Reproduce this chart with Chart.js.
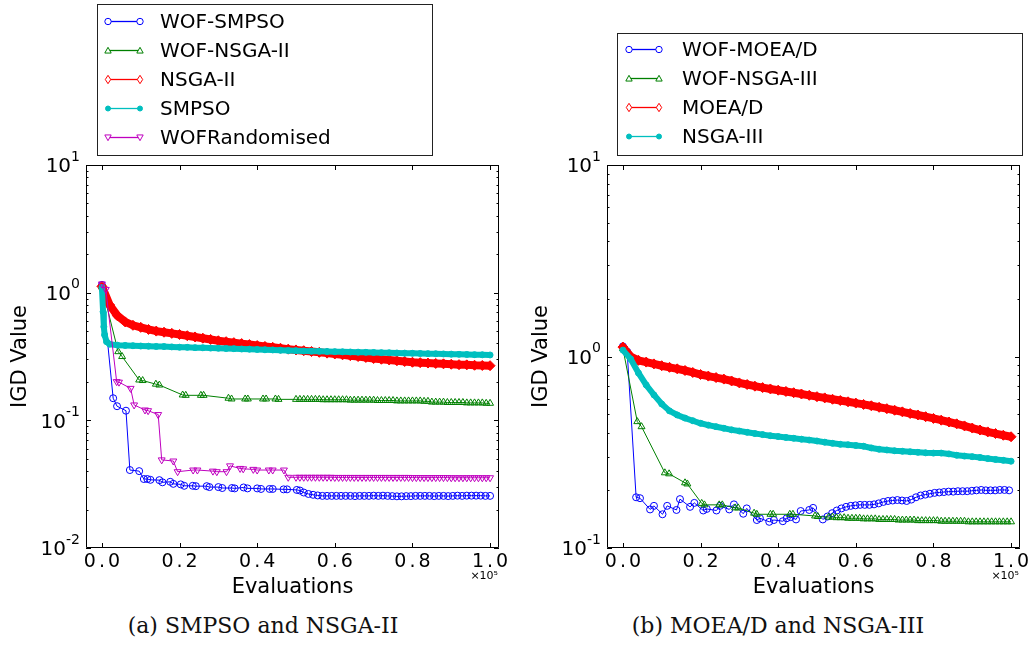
<!DOCTYPE html>
<html>
<head>
<meta charset="utf-8">
<script src="https://cdn.jsdelivr.net/npm/chart.js"></script>
<style>
  body { margin: 0; background: #fff; width: 1034px; height: 646px; position: relative; overflow: hidden; }
  .panel { position: absolute; top: 0; }
  .panel canvas { display: block; }
  .caption { position: absolute; top: 613px; font-family: "DejaVu Serif", serif; font-size: 22px; text-align: center; color: #111; }
</style>
</head>
<body>
<div class="panel" style="left:0"><canvas id="chartA" width="517" height="610"></canvas></div>
<div class="panel" style="left:520px"><canvas id="chartB" width="514" height="610"></canvas></div>
<div class="caption" style="left:0;width:526px">(a) SMPSO and NSGA-II</div>
<div class="caption" style="left:520px;width:516px">(b) MOEA/D and NSGA-III</div>
<script>
// x values are evaluations in units of 1e5 (the axis shows x10^5)
const xTickValues = [0.0, 0.2, 0.4, 0.6, 0.8, 1.0];

const grid02 = [0.00, 0.02, 0.04, 0.06, 0.08, 0.10, 0.12, 0.14, 0.16, 0.18, 0.20, 0.22, 0.24, 0.26, 0.28,
  0.30, 0.32, 0.34, 0.36, 0.38, 0.40, 0.42, 0.44, 0.46, 0.48, 0.50, 0.52, 0.54, 0.56, 0.58, 0.60, 0.62,
  0.64, 0.66, 0.68, 0.70, 0.72, 0.74, 0.76, 0.78, 0.80, 0.82, 0.84, 0.86, 0.88, 0.90, 0.92, 0.94, 0.96,
  0.98, 1.00];
const tail01 = [0.50, 0.51, 0.52, 0.53, 0.54, 0.55, 0.56, 0.57, 0.58, 0.59, 0.60, 0.61, 0.62, 0.63, 0.64,
  0.65, 0.66, 0.67, 0.68, 0.69, 0.70, 0.71, 0.72, 0.73, 0.74, 0.75, 0.76, 0.77, 0.78, 0.79, 0.80, 0.81,
  0.82, 0.83, 0.84, 0.85, 0.86, 0.87, 0.88, 0.89, 0.90, 0.91, 0.92, 0.93, 0.94, 0.95, 0.96, 0.97, 0.98,
  0.99, 1.00];

// (a) SMPSO and NSGA-II
const wofSmpsoEvals = [0.0, 0.029, 0.039, 0.062, 0.072, 0.096, 0.108, 0.117, 0.125, 0.148, 0.156, 0.176,
  0.184, 0.203, 0.212, 0.234, 0.242, 0.27, 0.277, 0.30, 0.31, 0.335, 0.342, 0.365, 0.375, 0.40, 0.41,
  0.432, 0.44, 0.468, 0.477, 0.502, 0.51,
  0.520, 0.532, 0.544, 0.556, 0.568, 0.580, 0.592, 0.604, 0.616, 0.628, 0.640, 0.652, 0.664, 0.676,
  0.688, 0.700, 0.712, 0.724, 0.736, 0.748, 0.760, 0.772, 0.784, 0.796, 0.808, 0.820, 0.832, 0.844,
  0.856, 0.868, 0.880, 0.892, 0.904, 0.916, 0.928, 0.940, 0.952, 0.964, 0.976, 0.988, 1.000];
const wofSmpsoIgd = [1.15, 0.149, 0.129, 0.119, 0.0408, 0.040, 0.0347, 0.0347, 0.0342, 0.034, 0.0327,
  0.033, 0.0318, 0.0315, 0.0307, 0.0307, 0.0305, 0.0305, 0.030, 0.030, 0.0295, 0.0295, 0.0293, 0.0298,
  0.0293, 0.0293, 0.029, 0.029, 0.029, 0.0288, 0.0288, 0.0285, 0.0282,
  0.0272, 0.0265, 0.0261, 0.0258, 0.0256, 0.0256, 0.0256, 0.0256, 0.0256, 0.0256, 0.0256, 0.0255,
  0.0256, 0.0256, 0.0256, 0.0257, 0.0256, 0.0257, 0.0256, 0.0255, 0.0254, 0.0254, 0.0255, 0.0255,
  0.0256, 0.0256, 0.0256, 0.0256, 0.0255, 0.0256, 0.0256, 0.0255, 0.0256, 0.0257, 0.0256, 0.0257,
  0.0257, 0.0257, 0.0257, 0.0256, 0.0256];

const wofNsga2Evals = [0.0, 0.042, 0.052, 0.096, 0.105, 0.139, 0.148, 0.208, 0.216, 0.255, 0.262, 0.326,
  0.334, 0.369, 0.376, 0.415, 0.423, 0.447, 0.455, ...tail01];
const wofNsga2Igd = [1.11, 0.345, 0.316, 0.207, 0.205, 0.192, 0.189, 0.158, 0.157, 0.157, 0.157, 0.149,
  0.147, 0.147, 0.147, 0.147, 0.147, 0.147, 0.146,
  0.146, 0.146, 0.146, 0.146, 0.146, 0.146, 0.146, 0.145, 0.145, 0.145, 0.145,
  0.145, 0.145, 0.145, 0.144, 0.144, 0.144, 0.144, 0.144, 0.144, 0.144,
  0.143, 0.143, 0.143, 0.143, 0.143, 0.142, 0.142, 0.142, 0.142, 0.142,
  0.142, 0.142, 0.141, 0.141, 0.139, 0.139, 0.139, 0.139, 0.138, 0.138,
  0.138, 0.138, 0.138, 0.137, 0.137, 0.137, 0.137, 0.137, 0.136, 0.136];

const nsga2Igd = [1.12, 0.80, 0.66, 0.59, 0.555, 0.535, 0.515, 0.50, 0.49, 0.48, 0.47, 0.46, 0.45, 0.44,
  0.43, 0.42, 0.413, 0.406, 0.399, 0.392, 0.385, 0.379, 0.373, 0.367, 0.361, 0.356, 0.351, 0.346, 0.341,
  0.336, 0.331, 0.326, 0.321, 0.316, 0.311, 0.305, 0.301, 0.297, 0.293, 0.289, 0.285, 0.283, 0.281,
  0.279, 0.277, 0.275, 0.273, 0.272, 0.270, 0.269, 0.268];

const smpsoEvals = [0.0, 0.003, 0.005, 0.007, 0.012, 0.02, ...grid02.slice(2)];
const smpsoIgd = [1.1, 0.71, 0.54, 0.466, 0.413, 0.395,
  0.388, 0.386, 0.384, 0.382, 0.381, 0.379, 0.378, 0.376, 0.374, 0.373, 0.371, 0.370, 0.368, 0.367,
  0.365, 0.364, 0.362, 0.361, 0.359, 0.357, 0.356, 0.354, 0.352, 0.351, 0.349, 0.348, 0.347, 0.346,
  0.345, 0.344, 0.343, 0.342, 0.341, 0.340, 0.339, 0.338, 0.337, 0.336, 0.335, 0.334, 0.333, 0.332,
  0.331, 0.330, 0.329, 0.328, 0.327, 0.326, 0.325];

const wofRandEvals = [0.0, 0.01, 0.038, 0.044, 0.074, 0.083, 0.111, 0.119, 0.145, 0.154, 0.184, 0.195,
  0.235, 0.246, 0.286, 0.296, 0.321, 0.33, 0.356, 0.364, 0.39, 0.40, 0.43, 0.44, 0.469, 0.48, ...tail01];
const wofRandIgd = [1.17, 1.06, 0.201, 0.199, 0.178, 0.132, 0.1205, 0.119, 0.111, 0.049, 0.048, 0.0396,
  0.0408, 0.0408, 0.040, 0.0396, 0.0396, 0.044, 0.042, 0.0417, 0.0413, 0.0408, 0.0408, 0.0408, 0.0408,
  0.0358,
  0.0358, 0.0358, 0.0358, 0.0358, 0.0358, 0.0358, 0.0358, 0.0358, 0.0358, 0.0358,
  0.0357, 0.0357, 0.0357, 0.0357, 0.0357, 0.0357, 0.0357, 0.0357, 0.0357, 0.0357,
  0.0357, 0.0357, 0.0357, 0.0357, 0.0357, 0.0357, 0.0357, 0.0357, 0.0357, 0.0357,
  0.0356, 0.0356, 0.0356, 0.0356, 0.0356, 0.0356, 0.0356, 0.0356, 0.0356, 0.0356,
  0.0355, 0.0355, 0.0355, 0.0355, 0.0355, 0.0355, 0.0355, 0.0355, 0.0355, 0.0355, 0.0355];

// (b) MOEA/D and NSGA-III
const wofMoeadEvals = [0.0, 0.011, 0.034, 0.044, 0.07, 0.08, 0.102, 0.114, 0.138, 0.147, 0.173, 0.184,
  0.207, 0.216, 0.241, 0.25, 0.274, 0.286, 0.31, 0.319, 0.345, 0.353, 0.377, 0.389, 0.412, 0.422, 0.432,
  0.446, 0.458, 0.48, 0.49, 0.515,
  0.527, 0.539, 0.551, 0.563, 0.575, 0.587, 0.599, 0.611, 0.623, 0.635, 0.647, 0.659, 0.671, 0.683,
  0.695, 0.707, 0.719, 0.731, 0.743, 0.755, 0.767, 0.779, 0.791, 0.803, 0.815, 0.827, 0.839, 0.851,
  0.863, 0.875, 0.887, 0.899, 0.911, 0.923, 0.935, 0.947, 0.959, 0.971, 0.983, 0.995];
const wofMoeadIgd = [1.13, 1.06, 0.184, 0.182, 0.159, 0.166, 0.150, 0.166, 0.158, 0.180, 0.164, 0.172,
  0.157, 0.160, 0.157, 0.166, 0.159, 0.169, 0.151, 0.161, 0.140, 0.143, 0.137, 0.140, 0.138, 0.143, 0.145,
  0.141, 0.156, 0.158, 0.162, 0.141,
  0.146, 0.152, 0.157, 0.161, 0.164, 0.166, 0.167, 0.168, 0.168, 0.168, 0.169, 0.171, 0.174, 0.176,
  0.177, 0.178, 0.177, 0.176, 0.179, 0.184, 0.188, 0.190, 0.192, 0.194, 0.195, 0.196, 0.197, 0.197,
  0.198, 0.198, 0.198, 0.199, 0.200, 0.201, 0.200, 0.200, 0.200, 0.201, 0.201, 0.200];

const wofNsga3Evals = [0.0, 0.037, 0.048, 0.108, 0.119, 0.16, 0.166, 0.203, 0.21, 0.248, 0.256, 0.289,
  0.297, 0.338, 0.345, 0.38, 0.387, 0.43, 0.438, 0.495, 0.502, ...tail01.slice(3)];
const wofNsga3Igd = [1.1, 0.457, 0.43, 0.247, 0.244, 0.219, 0.216, 0.171, 0.168, 0.168, 0.168, 0.162,
  0.162, 0.152, 0.150, 0.150, 0.150, 0.150, 0.150, 0.147, 0.146,
  0.145, 0.145, 0.144, 0.144, 0.144, 0.143, 0.143, 0.143,
  0.143, 0.142, 0.142, 0.142, 0.142, 0.141, 0.141, 0.141, 0.141, 0.141,
  0.140, 0.140, 0.140, 0.140, 0.140, 0.139, 0.139, 0.139, 0.139, 0.139,
  0.139, 0.138, 0.138, 0.138, 0.138, 0.138, 0.138, 0.138, 0.137, 0.137,
  0.137, 0.137, 0.137, 0.137, 0.137, 0.137, 0.137, 0.137, 0.137, 0.137];

const moeadIgd = [1.12, 1.0, 0.955, 0.935, 0.915, 0.895, 0.878, 0.862, 0.845, 0.825, 0.805, 0.79, 0.776,
  0.762, 0.745, 0.728, 0.714, 0.70, 0.688, 0.677, 0.667, 0.657, 0.647, 0.637, 0.627, 0.617, 0.608, 0.598,
  0.589, 0.58, 0.571, 0.562, 0.553, 0.543, 0.534, 0.524, 0.514, 0.504, 0.495, 0.485, 0.475, 0.465, 0.455,
  0.445, 0.434, 0.423, 0.413, 0.404, 0.396, 0.388, 0.381];

const nsga3Igd = [1.08, 0.97, 0.82, 0.71, 0.63, 0.565, 0.52, 0.495, 0.477, 0.462, 0.448, 0.438, 0.43,
  0.422, 0.414, 0.408, 0.402, 0.396, 0.391, 0.386, 0.382, 0.378, 0.374, 0.370, 0.366, 0.362, 0.357, 0.352,
  0.348, 0.346, 0.343, 0.34, 0.333, 0.328, 0.325, 0.322, 0.32, 0.318, 0.316, 0.314, 0.313, 0.313, 0.31,
  0.305, 0.302, 0.300, 0.297, 0.293, 0.290, 0.287, 0.284];

// line styles (matplotlib classic colours)
const styleBlue = { borderColor: '#0000ff', borderWidth: 1, pointStyle: 'circle', pointRadius: 3.5,
  pointBorderWidth: 1, pointBorderColor: '#0000ff', pointBackgroundColor: 'rgba(0,0,0,0)' };
const styleGreen = { borderColor: '#008000', borderWidth: 1, pointStyle: 'triangle', pointRadius: 4,
  pointBorderWidth: 1, pointBorderColor: '#008000', pointBackgroundColor: 'rgba(0,0,0,0)' };
const styleMagenta = { borderColor: '#bf00bf', borderWidth: 1, pointStyle: 'triangle', pointRotation: 180,
  pointRadius: 4, pointBorderWidth: 1, pointBorderColor: '#bf00bf', pointBackgroundColor: 'rgba(0,0,0,0)' };
const styleRed = { borderColor: '#ff0000', borderWidth: 8, pointStyle: 'rectRot', pointRadius: 5,
  pointBorderWidth: 1, pointBorderColor: '#ff0000', pointBackgroundColor: '#ff0000' };
const styleCyan = { borderColor: '#00bfbf', borderWidth: 6, pointStyle: 'circle', pointRadius: 3,
  pointBorderWidth: 1, pointBorderColor: '#00bfbf', pointBackgroundColor: '#00bfbf' };

function series(label, xs, ys, style) {
  return Object.assign({ label: label, data: xs.map((x, i) => ({ x: x, y: ys[i] })) }, style);
}

// legend marker drawn by hand so the legend looks like matplotlib's (line + two markers)
function drawMarker(ctx, ds, x, y) {
  const r = 3.2;
  ctx.beginPath();
  if (ds.pointStyle === 'circle' && ds.borderWidth > 1) {
    ctx.arc(x, y, 2.5, 0, Math.PI * 2);
    ctx.fillStyle = ds.borderColor;
  } else {
    if (ds.pointStyle === 'circle') {
      ctx.arc(x, y, r, 0, Math.PI * 2);
    } else if (ds.pointStyle === 'triangle') {
      const d = ds.pointRotation === 180 ? -1 : 1;
      ctx.moveTo(x, y - d * r);
      ctx.lineTo(x + r, y + d * r * 0.8);
      ctx.lineTo(x - r, y + d * r * 0.8);
      ctx.closePath();
    } else if (ds.pointStyle === 'rectRot') {
      ctx.moveTo(x, y - r - 1);
      ctx.lineTo(x + r - 0.5, y);
      ctx.lineTo(x, y + r + 1);
      ctx.lineTo(x - r + 0.5, y);
      ctx.closePath();
    }
    ctx.fillStyle = '#fff';
  }
  ctx.fill();
  ctx.stroke();
}

const boxLegend = {
  id: 'boxLegend',
  afterDraw(chart, args, o) {
    const ctx = chart.ctx;
    ctx.save();
    ctx.fillStyle = '#fff';
    ctx.fillRect(o.left, o.top, o.width, o.height);
    ctx.strokeStyle = '#222';
    ctx.lineWidth = 1;
    ctx.strokeRect(o.left + 0.5, o.top + 0.5, o.width, o.height);
    ctx.font = '20px "DejaVu Sans"';
    ctx.textBaseline = 'middle';
    ctx.textAlign = 'left';
    chart.data.datasets.forEach((ds, i) => {
      const y = o.firstRow + i * o.rowGap + 0.5;
      ctx.strokeStyle = ds.borderColor;
      ctx.lineWidth = 1.3;
      ctx.beginPath();
      ctx.moveTo(o.lineX0, y);
      ctx.lineTo(o.lineX1, y);
      ctx.stroke();
      ctx.lineWidth = 1;
      drawMarker(ctx, ds, o.lineX0, y);
      drawMarker(ctx, ds, o.lineX1, y);
      ctx.fillStyle = '#000';
      ctx.fillText(ds.label, o.textX, y + 1);
    });
    ctx.restore();
  }
};

// box around the plot with inward ticks on all four sides, tick labels
// in matplotlib's mathtext look, and the x offset text
const frameTicks = {
  id: 'frameTicks',
  afterDatasetsDraw(chart, args, o) {
    const { ctx, chartArea: a, scales: { x, y } } = chart;
    ctx.save();
    ctx.strokeStyle = '#000';
    ctx.lineWidth = 1;
    ctx.beginPath();
    ctx.rect(a.left + 0.5, a.top + 0.5, a.right - a.left - 1, a.bottom - a.top - 1);
    xTickValues.forEach(v => {
      const px = Math.round(x.getPixelForValue(v)) + 0.5;
      ctx.moveTo(px, a.bottom); ctx.lineTo(px, a.bottom - 5);
      ctx.moveTo(px, a.top); ctx.lineTo(px, a.top + 5);
    });
    const lo = Math.round(Math.log10(y.min));
    const hi = Math.round(Math.log10(y.max));
    for (let e = lo; e <= hi; e++) {
      for (let m = 1; m <= 9; m++) {
        const v = m * Math.pow(10, e);
        if (v > y.max * 1.0001) break;
        const py = Math.round(y.getPixelForValue(v)) + 0.5;
        const len = m === 1 ? 5 : 2.5;
        ctx.moveTo(a.left, py); ctx.lineTo(a.left + len, py);
        ctx.moveTo(a.right, py); ctx.lineTo(a.right - len, py);
      }
    }
    ctx.stroke();

    ctx.fillStyle = '#000';
    // x tick labels, letter-spaced like the original
    ctx.font = '19px "DejaVu Sans"';
    ctx.textAlign = 'center';
    ctx.textBaseline = 'middle';
    ctx.letterSpacing = '3px';
    xTickValues.forEach(v => {
      ctx.fillText(v.toFixed(1), x.getPixelForValue(v) + 1.5, a.bottom + 14);
    });
    ctx.letterSpacing = '0px';

    // y tick labels: 10 with a raised exponent
    ctx.textAlign = 'left';
    for (let e = lo; e <= hi; e++) {
      const py = y.getPixelForValue(Math.pow(10, e));
      const exp = String(e);
      ctx.font = '20px "DejaVu Sans"';
      const wBase = ctx.measureText('10').width;
      ctx.font = '14px "DejaVu Sans"';
      const wExp = ctx.measureText(exp).width;
      const x0 = a.left - 6 - wBase - wExp;
      ctx.font = '20px "DejaVu Sans"';
      ctx.fillText('10', x0, py + 2);
      ctx.font = '14px "DejaVu Sans"';
      ctx.fillText(exp, x0 + wBase, py - 8);
    }

    ctx.font = '11px "DejaVu Sans"';
    ctx.textAlign = 'right';
    ctx.textBaseline = 'alphabetic';
    ctx.fillText('×10⁵', a.right - 1, a.bottom + 31);
    ctx.restore();
  }
};

Chart.defaults.font.family = '"DejaVu Sans", sans-serif';
Chart.defaults.color = '#000';

function buildChart(id, datasets, yMin, legendOpts, yWidth, padRight, yTitlePad) {
  return new Chart(document.getElementById(id), {
    type: 'line',
    data: {
      datasets: datasets.map((d, i) => Object.assign({ order: datasets.length - i, tension: 0, fill: false }, d))
    },
    options: {
      responsive: false,
      animation: false,
      events: [],
      layout: { padding: { top: 165, right: padRight, bottom: 0, left: 0 } },
      plugins: {
        legend: { display: false },
        tooltip: { enabled: false },
        boxLegend: legendOpts
      },
      scales: {
        x: {
          type: 'linear', min: -0.041, max: 1.023,
          afterFit: s => { s.height = 62; },
          grid: { display: false, drawTicks: false },
          border: { display: false },
          ticks: { display: false },
          title: { display: true, text: 'Evaluations', font: { size: 21 }, padding: { top: 0, bottom: 10 } }
        },
        y: {
          type: 'logarithmic', min: yMin, max: 10,
          afterFit: s => { s.width = yWidth; },
          grid: { display: false, drawTicks: false },
          border: { display: false },
          ticks: { display: false },
          title: { display: true, text: 'IGD Value', font: { size: 21 }, padding: { top: yTitlePad, bottom: 0 } }
        }
      }
    },
    plugins: [frameTicks, boxLegend]
  });
}

buildChart('chartA', [
  series('WOF-SMPSO', wofSmpsoEvals, wofSmpsoIgd, styleBlue),
  series('WOF-NSGA-II', wofNsga2Evals, wofNsga2Igd, styleGreen),
  series('NSGA-II', grid02, nsga2Igd, styleRed),
  series('SMPSO', smpsoEvals, smpsoIgd, styleCyan),
  series('WOFRandomised', wofRandEvals, wofRandIgd, styleMagenta)
], 0.01, { left: 97, top: 4, width: 335, height: 151, firstRow: 21, rowGap: 29, lineX0: 108, lineX1: 140, textX: 160 },
  86, 18, 8);

buildChart('chartB', [
  series('WOF-MOEA/D', wofMoeadEvals, wofMoeadIgd, styleBlue),
  series('WOF-NSGA-III', wofNsga3Evals, wofNsga3Igd, styleGreen),
  series('MOEA/D', grid02, moeadIgd, styleRed),
  series('NSGA-III', grid02, nsga3Igd, styleCyan)
], 0.1, { left: 97, top: 33, width: 405, height: 122, firstRow: 49, rowGap: 29, lineX0: 109, lineX1: 139, textX: 162 },
  87, 14, 9);
</script>
</body>
</html>
